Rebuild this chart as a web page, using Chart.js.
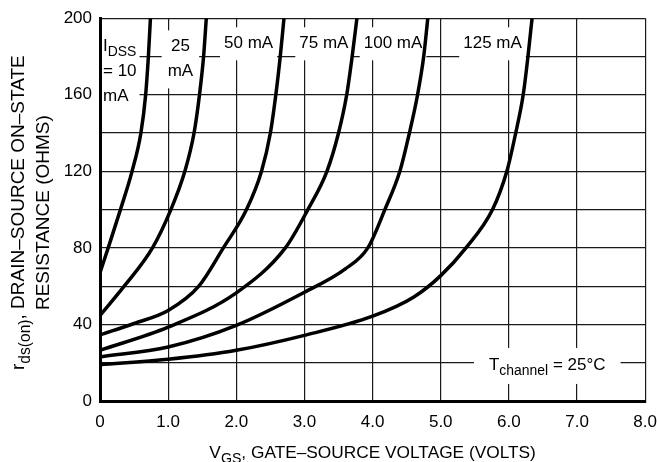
<!DOCTYPE html>
<html>
<head>
<meta charset="utf-8">
<script src="https://cdn.jsdelivr.net/npm/chart.js@4.4.1/dist/chart.umd.min.js"></script>
<style>
  html, body { margin: 0; padding: 0; background: #fff; overflow: hidden; }
  #wrap { width: 668px; height: 462px; }
</style>
</head>
<body>
<div id="wrap"><canvas id="myChart"></canvas></div>
<script>
// V_GS (volts) and r_ds(on) (ohms)
const vgs10 = [0, 0.12, 0.3, 0.47, 0.6, 0.67, 0.71, 0.74];
const rds10 = [67, 80, 100, 120, 140, 160, 180, 200];

const vgs25 = [0, 0.355, 0.77, 1.04, 1.245, 1.38, 1.46, 1.52, 1.56];
const rds25 = [44.7, 60, 80, 100, 120, 140, 160, 180, 200];

const vgs50 = [0, 0.5, 1.0, 1.45, 1.81, 2.15, 2.37, 2.5, 2.58, 2.645, 2.7];
const rds50 = [34.5, 40.5, 47.3, 60, 80, 100, 120, 140, 160, 180, 200];

const vgs75 = [0, 1.0, 2.0, 2.72, 3.05, 3.33, 3.5, 3.62, 3.7, 3.77];
const rds75 = [26.5, 38.6, 56.5, 80, 100, 120, 140, 160, 180, 200];

const vgs100 = [0, 1.0, 2.0, 3.0, 3.6, 3.93, 4.18, 4.4, 4.54, 4.66, 4.75, 4.81];
const rds100 = [23, 28.2, 39.5, 56.8, 69, 80, 100, 120, 140, 160, 180, 200];

const vgs125 = [0, 1.0, 2.0, 3.0, 4.0, 4.6, 5.0, 5.37, 5.76, 5.97, 6.1, 6.21, 6.28, 6.34];
const rds125 = [19, 21.8, 26.5, 34.3, 44.3, 54.2, 65.5, 80, 100, 120, 140, 160, 180, 200];

const seriesNames = ['10 mA', '25 mA', '50 mA', '75 mA', '100 mA', '125 mA'];

const xTickValues = [0, 1, 2, 3, 4, 5, 6, 7, 8];
const xTickLabels = ['0', '1.0', '2.0', '3.0', '4.0', '5.0', '6.0', '7.0', '8.0'];
const yTickValues = [0, 20, 40, 60, 80, 100, 120, 140, 160, 180, 200];
const yTickLabels = ['0', '', '40', '', '80', '', '120', '', '160', '', '200'];

const FONT = '"Liberation Sans", Arial, sans-serif';
const SUB = 0.82;

// labels inside the plot, x/y in data units (y = baseline of first line)
const notes = [
  { x: 0.044, y: 182.8, align: 'left', padX: 3, padY: 8,
    lines: [[{ t: 'I' }, { t: 'DSS', sub: true }], [{ t: '= 10' }], [{ t: 'mA' }]] },
  { x: 1.18, y: 182.8, align: 'center', padX: 6, padY: 8,
    lines: [[{ t: '25' }], [{ t: 'mA' }]] },
  { x: 2.18, y: 184.4, align: 'center', padX: 4, padY: 8, lines: [[{ t: '50 mA' }]] },
  { x: 3.285, y: 184.4, align: 'center', padX: 4, padY: 8, lines: [[{ t: '75 mA' }]] },
  { x: 4.3, y: 184.4, align: 'center', padX: 4, padY: 8, lines: [[{ t: '100 mA' }]] },
  { x: 5.76, y: 184.4, align: 'center', padX: 4, padY: 8, lines: [[{ t: '125 mA' }]] },
  { x: 5.708, y: 16.1, align: 'left', padX: 15, padY: 9.5,
    lines: [[{ t: 'T' }, { t: 'channel', sub: true }, { t: ' = 25°C' }]] }
];

function setFont(c, size) { c.font = size + 'px ' + FONT; }

function richWidth(c, parts, size) {
  let w = 0;
  parts.forEach(p => {
    setFont(c, p.sub ? size * SUB : size);
    w += c.measureText(p.t).width;
  });
  return w;
}

function drawRich(c, parts, x, y, size) {
  parts.forEach(p => {
    const s = p.sub ? size * SUB : size;
    setFont(c, s);
    c.fillText(p.t, x, p.sub ? y + size * 0.3 : y);
    x += c.measureText(p.t).width;
  });
}

const textPlugin = {
  id: 'texts',
  beforeDatasetsDraw(chart) {
    const c = chart.ctx;
    const xs = chart.scales.x, ys = chart.scales.y;
    const size = 17, lineH = 25;
    c.save();
    c.textBaseline = 'alphabetic';
    c.textAlign = 'left';
    notes.forEach(n => {
      const px = xs.getPixelForValue(n.x);
      const py = ys.getPixelForValue(n.y);
      const widths = n.lines.map(l => richWidth(c, l, size));
      const maxW = Math.max(...widths);
      const left = n.align === 'center' ? px - maxW / 2 : px;
      const bx = Math.max(left - n.padX, chart.chartArea.left + 2);
      const top = py - size * 0.75 - n.padY;
      const bottom = py + (n.lines.length - 1) * lineH + size * 0.25 + n.padY;
      c.fillStyle = '#fff';
      c.fillRect(bx, top, left + maxW + n.padX - bx, bottom - top);
      c.fillStyle = '#000';
      n.lines.forEach((l, i) => {
        const lx = n.align === 'center' ? px - widths[i] / 2 : px;
        drawRich(c, l, lx, py + i * lineH, size);
      });
    });
    c.restore();
  },
  afterDraw(chart) {
    const c = chart.ctx;
    const a = chart.chartArea;
    c.save();
    c.fillStyle = '#000';
    c.textBaseline = 'alphabetic';
    // x axis title
    const xs = 17.3;
    const xt = [{ t: 'V' }, { t: 'GS', sub: true }, { t: ', GATE\u2013SOURCE VOLTAGE (VOLTS)' }];
    const xw = richWidth(c, xt, xs);
    drawRich(c, xt, (a.left + a.right) / 2 - xw / 2, a.bottom + 57, xs);
    // y axis title, two lines
    const ysz = 19;
    const y1 = [{ t: 'r' }, { t: 'ds(on)', sub: true }, { t: ', DRAIN\u2013SOURCE ON\u2013STATE' }];
    const y2 = [{ t: 'RESISTANCE (OHMS)' }];
    const cy = (a.top + a.bottom) / 2 + 3;
    [[y1, 24], [y2, 49]].forEach(([parts, bx]) => {
      const w = richWidth(c, parts, ysz);
      c.save();
      c.translate(bx, cy);
      c.rotate(-Math.PI / 2);
      drawRich(c, parts, -w / 2, 0, ysz);
      c.restore();
    });
    c.restore();
  }
};

const curves = [[vgs10, rds10], [vgs25, rds25], [vgs50, rds50], [vgs75, rds75], [vgs100, rds100], [vgs125, rds125]];

const datasets = curves.map((cv, i) => ({
  label: seriesNames[i],
  data: cv[0].map((v, j) => ({ x: v, y: cv[1][j] })),
  borderColor: '#000',
  borderWidth: 3.5,
  pointRadius: 0,
  cubicInterpolationMode: 'monotone',
  fill: false
}));

const myChart = new Chart(document.getElementById('myChart'), {
  type: 'line',
  data: { datasets: datasets },
  plugins: [textPlugin],
  options: {
    responsive: true,
    maintainAspectRatio: false,
    animation: false,
    events: [],
    layout: { padding: { top: 17, right: 20, left: 0, bottom: 0 } },
    plugins: { legend: { display: false }, tooltip: { enabled: false } },
    scales: {
      x: {
        type: 'linear',
        min: 0,
        max: 8,
        afterBuildTicks: axis => { axis.ticks = xTickValues.map(v => ({ value: v })); },
        afterFit: scale => { scale.height = 61; },
        ticks: {
          color: '#000',
          font: { family: FONT, size: 17 },
          padding: 11,
          maxRotation: 0,
          autoSkip: false,
          callback: (v, i) => xTickLabels[i]
        },
        grid: { color: '#1a1a1a', lineWidth: 1.2, drawTicks: false },
        border: { color: '#000', width: 3, z: 1 }
      },
      y: {
        min: 0,
        max: 200,
        afterBuildTicks: axis => { axis.ticks = yTickValues.map(v => ({ value: v })); },
        afterFit: scale => { scale.width = 100; },
        ticks: {
          color: '#000',
          font: { family: FONT, size: 17 },
          padding: 8,
          autoSkip: false,
          callback: (v, i) => yTickLabels[i]
        },
        grid: { color: '#1a1a1a', lineWidth: 1.2, drawTicks: false },
        border: { color: '#000', width: 3, z: 1 }
      }
    }
  }
});
</script>
</body>
</html>
